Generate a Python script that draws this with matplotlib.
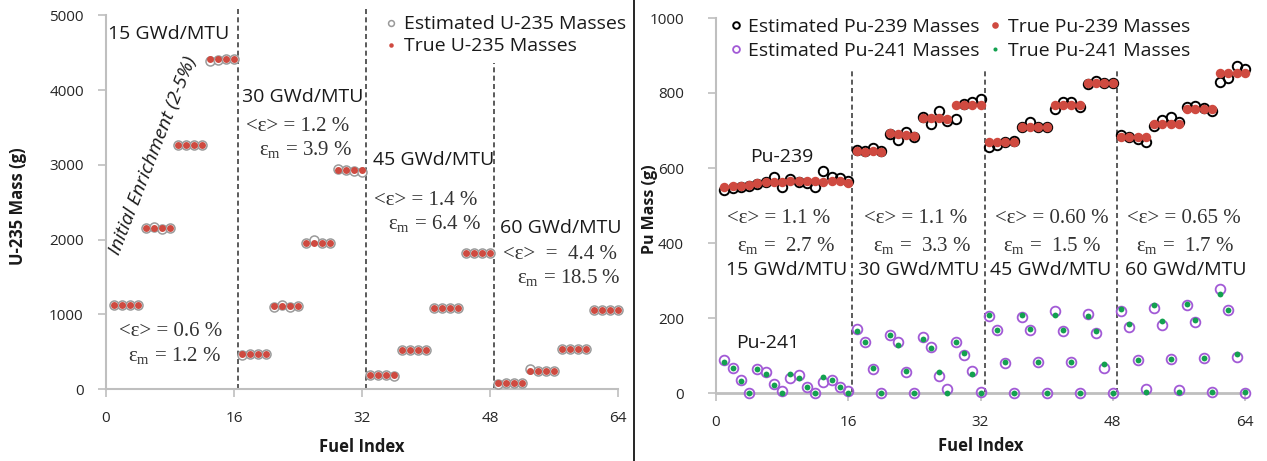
import matplotlib
matplotlib.use("Agg")
import matplotlib.pyplot as plt
from matplotlib.lines import Line2D
import numpy as np

plt.rcParams['font.family'] = ['Open Sans', 'DejaVu Sans']
plt.rcParams['mathtext.fontset'] = 'custom'
plt.rcParams['mathtext.rm'] = 'Liberation Serif'
plt.rcParams['mathtext.it'] = 'Liberation Serif:italic'

# ---------------- data ----------------
fuel_index = np.arange(1, 65)

u235_true = [1130, 1130, 1130, 1130, 2150, 2150, 2150, 2150,
             3270, 3270, 3270, 3270, 4420, 4420, 4420, 4420,
             465, 465, 465, 465, 1110, 1110, 1110, 1110,
             1960, 1960, 1960, 1960, 2935, 2935, 2935, 2935,
             188, 188, 188, 188, 525, 525, 525, 525,
             1083, 1083, 1083, 1083, 1815, 1815, 1815, 1815,
             82, 82, 82, 82, 235, 235, 235, 235,
             540, 540, 540, 540, 1060, 1060, 1060, 1060]
u235_est = [1130, 1125, 1130, 1130, 2150, 2170, 2140, 2150,
            3270, 3270, 3265, 3270, 4395, 4400, 4420, 4420,
            460, 465, 470, 465, 1100, 1125, 1095, 1115,
            1955, 1990, 1960, 1960, 2940, 2935, 2915, 2900,
            192, 188, 185, 170, 525, 525, 520, 525,
            1090, 1083, 1080, 1083, 1815, 1815, 1815, 1820,
            70, 78, 80, 78, 262, 240, 235, 240,
            540, 540, 540, 540, 1060, 1060, 1060, 1060]

pu239_true = [550, 552, 553, 554, 560, 562, 562, 562,
              566, 564, 564, 564, 562, 564, 564, 561,
              644, 642, 645, 642, 692, 690, 688, 686,
              733, 733, 734, 731, 768, 768, 768, 768,
              668, 668, 668, 668, 710, 710, 710, 710,
              768, 768, 768, 768, 826, 826, 826, 826,
              682, 682, 682, 682, 717, 717, 717, 717,
              757, 757, 757, 757, 853, 853, 853, 853]
pu239_est = [542, 547, 549, 551, 557, 562, 575, 550,
             571, 562, 559, 549, 591, 575, 574, 564,
             648, 644, 653, 644, 691, 675, 697, 682,
             735, 717, 753, 726, 731, 771, 776, 785,
             655, 660, 668, 673, 709, 722, 710, 710,
             757, 777, 777, 762, 825, 833, 826, 826,
             688, 682, 678, 668, 713, 728, 735, 722,
             762, 766, 761, 753, 830, 841, 871, 863]

pu241_true = [82, 66, 33, 0, 64, 52, 21, 1, 50, 41, 17, 0, 42, 35, 15, 0,
              166, 137, 66, 0, 156, 129, 59, 0, 144, 119, 57, 0, 137, 108, 52, 0,
              207, 169, 82, 0, 209, 170, 84, 0, 207, 168, 83, 0, 205, 166, 77, 0,
              223, 185, 88, 4, 234, 191, 90, 4, 238, 194, 94, 2, 265, 222, 104, 2]
pu241_est = [88, 66, 35, 0, 64, 55, 23, 5, 39, 48, 15, 0, 30, 35, 15, 5,
             172, 135, 64, 0, 156, 135, 56, 0, 150, 122, 45, 12, 137, 101, 59, 3,
             205, 169, 79, 0, 203, 168, 84, 0, 218, 166, 83, 0, 212, 159, 68, 0,
             218, 176, 88, 11, 227, 181, 90, 8, 236, 190, 94, 2, 278, 221, 95, 0]

burnup_labels = ['15 GWd/MTU', '30 GWd/MTU', '45 GWd/MTU', '60 GWd/MTU']
u_mean_err = ['<ε> = 0.6 %', '<ε> = 1.2 %', '<ε> = 1.4 %', '<ε>  =  4.4 %']
u_max_err = ['ε$_\\mathrm{m}$ = 1.2 %', 'ε$_\\mathrm{m}$ = 3.9 %',
             'ε$_\\mathrm{m}$ = 6.4 %', 'ε$_\\mathrm{m}$ = 18.5 %']
pu_mean_err = ['<ε> = 1.1 %', '<ε> = 1.1 %', '<ε> = 0.60 %', '<ε> = 0.65 %']
pu_max_err = ['ε$_\\mathrm{m}$ =  2.7 %', 'ε$_\\mathrm{m}$ =  3.3 %',
              'ε$_\\mathrm{m}$ =  1.5 %', 'ε$_\\mathrm{m}$ =  1.7 %']
group_bounds = [16.5, 32.5, 48.5]
x_ticks = [0, 16, 32, 48, 64]

# ---------------- styling ----------------
W, H = 1267, 461
fig = plt.figure(figsize=(W / 100, H / 100), dpi=100)

RED = '#cf4a40'
GREEN = '#13a14f'
PURPLE = '#a25ad6'
GRID = '#bfbfbf'
TXT = '#1a1a1a'
SERIF = 'Liberation Serif'
SANS_SIZE = 14
SERIF_SIZE = 15


def style_axes(ax, ypad):
    for s in ['top', 'right']:
        ax.spines[s].set_visible(False)
    for s in ['left', 'bottom']:
        ax.spines[s].set_color(GRID)
        ax.spines[s].set_linewidth(1.5)
    ax.tick_params(axis='both', direction='out', length=6, width=1.2,
                   color=GRID, labelsize=11, labelcolor='#262626')
    ax.tick_params(axis='y', pad=ypad)
    ax.tick_params(axis='x', pad=10)
    ax.set_xlim(0, 64)
    ax.set_xticks(x_ticks)


# ---------------- left panel ----------------
axL = fig.add_axes([106 / W, (H - 389) / H, 512 / W, 373.5 / H])
style_axes(axL, 10)
axL.set_ylim(0, 5000)
axL.set_yticks(range(0, 5001, 1000))

axL.plot(fuel_index, u235_est, 'o', ls='none', ms=6.5, mfc='white', mec='#9a9a9a',
         mew=1.1, clip_on=False, label='Estimated U-235 Masses', zorder=3)
axL.plot(fuel_index, u235_true, 'o', ls='none', ms=5, mfc=RED, mec=RED,
         mew=0, clip_on=False, label='True U-235 Masses', zorder=4)

dash_tops_L = [5120, 5120, 4360]
for xb, top in zip(group_bounds, dash_tops_L):
    axL.plot([xb, xb], [0, top], ls=(0, (3, 2)), color='#404040', lw=1.2,
             clip_on=False, zorder=2)

legL = axL.legend(loc='upper left', bbox_to_anchor=(0.545, 1.0), frameon=False,
                  borderpad=0, borderaxespad=0, handlelength=0.6, handletextpad=0.35,
                  labelspacing=0.2, markerscale=0.65, prop={'size': SANS_SIZE})
for t in legL.get_texts():
    t.set_color(TXT)

# burnup labels
axL.text(0.25, 4752, burnup_labels[0], ha='left', va='center', fontsize=SANS_SIZE, color=TXT)
axL.text(17.0, 3913, burnup_labels[1], ha='left', va='center', fontsize=SANS_SIZE, color=TXT)
axL.text(33.4, 3066, burnup_labels[2], ha='left', va='center', fontsize=SANS_SIZE, color=TXT)
axL.text(49.2, 2155, burnup_labels[3], ha='left', va='center', fontsize=SANS_SIZE, color=TXT)

u_err_pos = [((8.1, 767), (8.6, 455)), ((23.9, 3511), (25.0, 3200)),
             ((40.0, 2530), (41.1, 2222)), ((56.75, 1807), (57.9, 1486))]
for (p1, p2), m1, m2 in zip(u_err_pos, u_mean_err, u_max_err):
    axL.text(*p1, m1, ha='center', va='center', fontsize=SERIF_SIZE, family=SERIF, color='#333333')
    axL.text(*p2, m2, ha='center', va='center', fontsize=SERIF_SIZE, family=SERIF, color='#333333')

axL.text(5.9, 3119, 'Initial Enrichment (2-5%)', rotation=68.6, rotation_mode='anchor',
         ha='center', va='center', fontsize=SANS_SIZE, style='italic', color=TXT)

axL.text(-0.172, 0.49, 'U-235 Mass (g)', transform=axL.transAxes, rotation=90,
         ha='center', va='center', fontsize=12, fontweight='bold', color=TXT)
axL.text(0.5, -0.155, 'Fuel Index', transform=axL.transAxes,
         ha='center', va='center', fontsize=12, fontweight='bold', color=TXT)

# ---------------- right panel ----------------
axR = fig.add_axes([716 / W, (H - 393) / H, 529 / W, 375 / H])
style_axes(axR, 17)
axR.spines['bottom'].set_linewidth(2)
axR.set_ylim(0, 1000)
axR.set_yticks(range(0, 1001, 200))

h1, = axR.plot(fuel_index, pu239_est, 'o', ls='none', ms=6.8, mfc='none', mec='black',
               mew=1.4, clip_on=False, label='Estimated Pu-239 Masses', zorder=3)
h2, = axR.plot(fuel_index, pu239_true, 'o', ls='none', ms=6.8, mfc=RED, mec=RED,
               mew=0, clip_on=False, label='True Pu-239 Masses', zorder=4)
h3, = axR.plot(fuel_index, pu241_est, 'o', ls='none', ms=7.0, mfc='none', mec=PURPLE,
               mew=1.3, clip_on=False, label='Estimated Pu-241 Masses', zorder=3)
h4, = axR.plot(fuel_index, pu241_true, 'o', ls='none', ms=4.2, mfc=GREEN, mec=GREEN,
               mew=0, clip_on=False, label='True Pu-241 Masses', zorder=4)

for xb in group_bounds:
    axR.plot([xb, xb], [0, 865], ls=(0, (3, 2)), color='#404040', lw=1.2,
             clip_on=False, zorder=2)

legR = axR.legend(handles=[h1, h3, h2, h4], ncol=2, loc='upper left',
                  bbox_to_anchor=(0.026, 1.0), frameon=False, borderpad=0,
                  borderaxespad=0, handlelength=0.6, handletextpad=0.35,
                  labelspacing=0.3, columnspacing=0.5, markerscale=0.7,
                  prop={'size': SANS_SIZE})
for t in legR.get_texts():
    t.set_color(TXT)

axR.text(8.0, 630, 'Pu-239', ha='center', va='center', fontsize=SANS_SIZE, color=TXT)
axR.text(6.3, 133, 'Pu-241', ha='center', va='center', fontsize=SANS_SIZE, color=TXT)

pu_cx = [(7.6, 8.5, 8.5), (24.2, 24.9, 24.5), (40.6, 40.7, 40.5), (56.6, 56.8, 56.8)]
for (c1, c2, c3), m1, m2, bl in zip(pu_cx, pu_mean_err, pu_max_err, burnup_labels):
    axR.text(c1, 465, m1, ha='center', va='center', fontsize=SERIF_SIZE, family=SERIF, color='#333333')
    axR.text(c2, 394, m2, ha='center', va='center', fontsize=SERIF_SIZE, family=SERIF, color='#333333')
    axR.text(c3, 327, bl, ha='center', va='center', fontsize=SANS_SIZE, color=TXT)

axR.text(-0.124, 0.49, 'Pu Mass (g)', transform=axR.transAxes, rotation=90,
         ha='center', va='center', fontsize=11.5, fontweight='bold', color=TXT)
axR.text(0.5, -0.14, 'Fuel Index', transform=axR.transAxes,
         ha='center', va='center', fontsize=12, fontweight='bold', color=TXT)

# separator between the panels
fig.add_artist(Line2D([634 / W, 634 / W], [0, 1], color='black', lw=1.2))

fig.savefig('out.png', dpi=100, facecolor='white')
